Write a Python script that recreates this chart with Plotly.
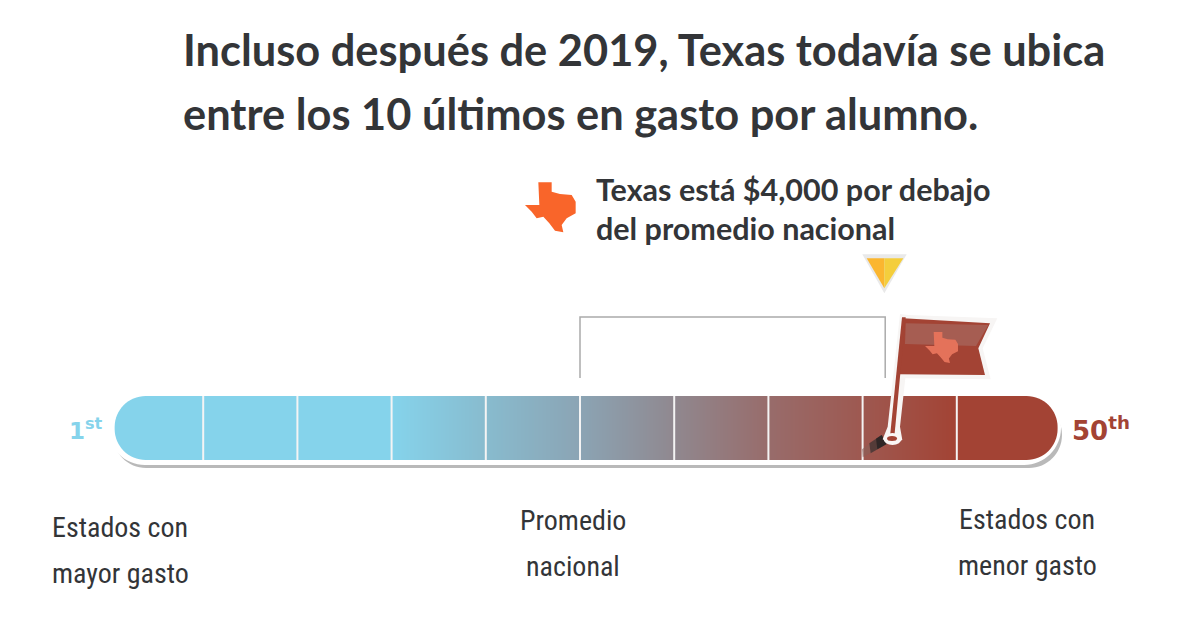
import plotly.graph_objects as go

# the page keeps its 8px body margin, so the figure is drawn that much smaller
PAGE_W, PAGE_H = 1200, 623
PAD = 8
W, H = PAGE_W - PAD, PAGE_H - PAD

# bar is 50 states split in blocks of 5
block_edges = [5, 10, 15, 20, 25, 30, 35, 40, 45]
block_colors = ['#85D3EB', '#85D3EB', '#85D3EB', '#88BBCE', '#8BA4B4',
                '#90888F', '#986C6B', '#9E5850', '#A34334']
first_rank = 0.3
last_rank = 50.35
avg_rank = 25
texas_rank = 41.2

title_lines = ['Incluso después de 2019, Texas todavía se ubica',
               'entre los 10 últimos en gasto por alumno.']
note_lines = ['Texas está $4,000 por debajo', 'del promedio nacional']
left_label = ['Estados con', 'mayor gasto']
mid_label = ['Promedio', 'nacional']
right_label = ['Estados con', 'menor gasto']

BLUE = '#85D3EB'
RED = '#A34334'
DARK = '#333538'

PX_PER_RANK = 18.84
X0 = 109
BAR_TOP, BAR_BOT = 396, 460

texas = [(85, 37), (125, 37), (125, 65), (150, 72), (185, 75), (197, 95), (197, 130),
         (170, 145), (155, 165), (160, 187), (135, 182), (118, 160), (100, 140),
         (80, 145), (65, 125), (45, 105), (88, 105)]


def fx(px):
    return f'{(px - PAD) / W:.5f}'


def rank_x(rank):
    return X0 + rank * PX_PER_RANK


def poly(points, fill, line=None, width=0, opacity=1, layer='above'):
    d = 'M' + ' L'.join(f'{fx(x)},{y:.2f}' for x, y in points) + ' Z'
    return dict(type='path', path=d, xref='paper', yref='y', fillcolor=fill,
                line=dict(color=line or fill, width=width), opacity=opacity, layer=layer)


def rounded(x0, x1, y0, y1, r, fill, left=True, right=True, layer='above', opacity=1):
    k = 0.55 * r
    d = f'M{fx(x0 + r if left else x0)},{y0}'
    d += f' L{fx(x1 - r if right else x1)},{y0}'
    if right:
        d += f' C{fx(x1 - r + k)},{y0} {fx(x1)},{y0 + r - k} {fx(x1)},{y0 + r}'
        d += f' L{fx(x1)},{y1 - r}'
        d += f' C{fx(x1)},{y1 - r + k} {fx(x1 - r + k)},{y1} {fx(x1 - r)},{y1}'
    else:
        d += f' L{fx(x1)},{y1}'
    if left:
        d += f' L{fx(x0 + r)},{y1}'
        d += f' C{fx(x0 + r - k)},{y1} {fx(x0)},{y1 - r + k} {fx(x0)},{y1 - r}'
        d += f' L{fx(x0)},{y0 + r}'
        d += f' C{fx(x0)},{y0 + r - k} {fx(x0 + r - k)},{y0} {fx(x0 + r)},{y0}'
    else:
        d += f' L{fx(x0)},{y1}'
    d += ' Z'
    return dict(type='path', path=d, xref='paper', yref='y', fillcolor=fill,
                line=dict(width=0), layer=layer, opacity=opacity)


def zoomed(points):
    return [(840 + x / 3, 240 + y / 3) for x, y in points]


def ellipse(cx, cy, rx, ry, fill):
    return dict(type='circle', xref='paper', yref='y', x0=float(fx(cx - rx)), x1=float(fx(cx + rx)),
                y0=cy - ry, y1=cy + ry, fillcolor=fill, line=dict(width=0))


fig = go.Figure()

fig.add_trace(go.Heatmap(
    x=block_edges,
    y=[BAR_TOP, (BAR_TOP + BAR_BOT) / 2, BAR_BOT],
    z=[block_edges, block_edges],
    colorscale=[[(e - 5) / 40, c] for e, c in zip(block_edges, block_colors)],
    zsmooth='best',
    showscale=False,
    hoverinfo='skip',
))

shapes = []

# shadow and white rim under the bar
shapes.append(rounded(113, 1062, 402, 468, 33, '#A8A8A8', layer='below', opacity=0.8))
shapes.append(rounded(108, 1061, 390, 465, 37, '#FFFFFF', layer='below'))

# solid end caps
shapes.append(rounded(rank_x(first_rank), rank_x(block_edges[0]), BAR_TOP, BAR_BOT, 31, BLUE, right=False))
shapes.append(rounded(rank_x(block_edges[-1]), rank_x(last_rank), BAR_TOP, BAR_BOT, 31, RED, left=False))

# white dividers
for e in block_edges:
    shapes.append(dict(type='line', xref='x', yref='y', x0=e, x1=e, y0=BAR_TOP, y1=BAR_BOT,
                       line=dict(color='#F4F4F4', width=2)))

# bracket from the national average to Texas
bracket = (f'M{avg_rank},378 L{avg_rank},317 L{texas_rank},317 L{texas_rank},378')
shapes.append(dict(type='path', path=bracket, xref='x', yref='y',
                   line=dict(color='#ABABAB', width=1.5)))

# yellow marker
shapes.append(poly(zoomed([(67, 43), (200, 43), (133, 160)]), '#E9E9E9'))
shapes.append(poly(zoomed([(80, 55), (133, 55), (133, 145)]), '#FBB62F'))
shapes.append(poly(zoomed([(133, 55), (190, 55), (133, 145)]), '#F4CE3C'))

# pin shadow fading out to the lower left
shapes.append(poly(zoomed([(125, 585), (140, 612), (68, 652), (66, 628)]), '#8A5F58', opacity=0.6))
shapes.append(poly(zoomed([(125, 585), (140, 612), (92, 640), (88, 610)]), '#3A2E2D', opacity=0.7))
shapes.append(poly(zoomed([(125, 585), (140, 612), (112, 628), (108, 596)]), '#2B2525', opacity=0.9))

# flag, white edge first
shapes.append(poly(zoomed([(180, 222), (205, 225), (472, 235), (428, 325), (452, 418), (196, 415),
                           (180, 560), (187, 600), (155, 612), (128, 598), (143, 560)]), '#F7F5F4'))
shapes.append(poly(zoomed([(190, 235), (450, 250), (415, 325), (435, 405), (178, 403)]), RED))
shapes.append(poly(zoomed([(197, 250), (445, 255), (408, 318), (195, 312)]), '#A65D52'))
shapes.append(poly(zoomed([(186, 232), (197, 232), (163, 590), (150, 590)]), RED))
shapes.append(ellipse(892.5, 439, 9, 6, '#FAF6F5'))
shapes.append(ellipse(892, 438.5, 5, 2.5, RED))
shapes.append(poly([(925 + (x - 45) * 0.217, 332 + (y - 37) * 0.207) for x, y in texas], '#E4725A'))

# texas icon beside the note
shapes.append(poly([(510 + x / 3, 170 + y / 3) for x, y in texas], '#F9652A'))


def label(text, x, y, size, color=DARK, family='Lato', anchor='left', weight=None):
    font = dict(family=family, size=size, color=color, weight=weight)
    return dict(text=text, xref='paper', yref='y', x=float(fx(x)), y=y, xanchor=anchor, yanchor='middle',
                showarrow=False, font=font)


def caption(text, x, y):
    return label(text, x, y, 28, family='Roboto Condensed, Open Sans Condensed, Roboto', anchor='center')


annotations = [
    label(title_lines[0], 181, 49, 43.4, weight=700),
    label(title_lines[1], 181, 113, 43.4, weight=700),
    label(note_lines[0], 594, 189, 30.5, weight=700),
    label(note_lines[1], 594, 228, 30.5, weight=700),
    label('1<sup>st</sup>', 67, 429, 23, BLUE, family='DejaVu Sans', weight=700),
    label('50<sup>th</sup>', 1070, 429, 26, RED, family='DejaVu Sans', weight=700),
    caption(left_label[0], 120, 527),
    caption(left_label[1], 120, 573),
    caption(mid_label[0], 573, 520),
    caption(mid_label[1], 573, 566),
    caption(right_label[0], 1027, 519),
    caption(right_label[1], 1027, 565),
]

fig.update_layout(
    width=W,
    height=H,
    margin=dict(l=0, r=0, t=0, b=0),
    paper_bgcolor='white',
    plot_bgcolor='white',
    shapes=shapes,
    annotations=annotations,
    xaxis=dict(range=[(PAD - X0) / PX_PER_RANK, (PAGE_W - X0) / PX_PER_RANK], visible=False, fixedrange=True),
    yaxis=dict(range=[PAGE_H, PAD], visible=False, fixedrange=True),
)

fig.write_html("out.html")
